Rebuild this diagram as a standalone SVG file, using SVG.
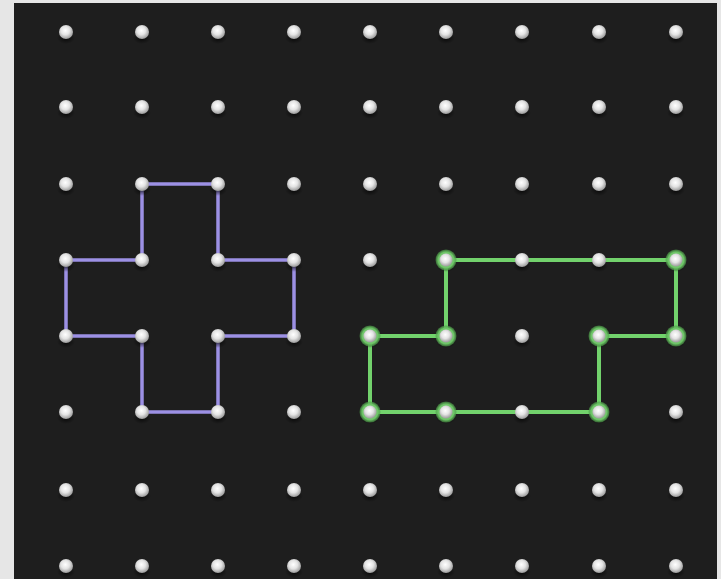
<svg xmlns="http://www.w3.org/2000/svg" width="721" height="579" viewBox="0 0 721 579">
<defs>
<radialGradient id="peg" cx="0.45" cy="0.4" r="0.6">
<stop offset="0" stop-color="#ffffff"/>
<stop offset="0.5" stop-color="#e4e4e4"/>
<stop offset="1" stop-color="#9a9a9a"/>
</radialGradient>
<radialGradient id="shadow" cx="0.5" cy="0.5" r="0.5">
<stop offset="0" stop-color="#000" stop-opacity="0.7"/>
<stop offset="1" stop-color="#000" stop-opacity="0"/>
</radialGradient>
<radialGradient id="glow" cx="0.5" cy="0.5" r="0.5">
<stop offset="0" stop-color="#a8e8a0"/>
<stop offset="0.75" stop-color="#6cc466"/>
<stop offset="1" stop-color="#4a9a46" stop-opacity="0.6"/>
</radialGradient>
<g id="p">
<ellipse cx="0" cy="6" rx="9" ry="6" fill="url(#shadow)"/>
<circle r="7" fill="url(#peg)"/>
</g>
<g id="gp">
<ellipse cx="0" cy="6" rx="10" ry="6" fill="url(#shadow)"/>
<circle r="10.5" fill="url(#glow)"/>
<circle r="6.5" fill="url(#peg)"/>
</g>
</defs>
<style>
.purple{fill:none;stroke:#9c90e4;stroke-width:3.5;stroke-linejoin:round}
.green{fill:none;stroke:#72d26c;stroke-width:4;stroke-linejoin:round}
</style>
<rect width="721" height="579" fill="#e6e6e6"/>
<rect x="14" y="3" width="703" height="576" fill="#1e1e1e"/>
<g id="connectors">
<polygon class="purple" points="142,184 218,184 218,260 294,260 294,336 218,336 218,412 142,412 142,336 66,336 66,260 142,260"/>
<polygon class="green" points="446,260 676,260 676,336 599,336 599,412 370,412 370,336 446,336"/>
</g>
<g id="pegs">
<g id="row1"><use href="#p" x="66" y="32"/><use href="#p" x="142" y="32"/><use href="#p" x="218" y="32"/><use href="#p" x="294" y="32"/><use href="#p" x="370" y="32"/><use href="#p" x="446" y="32"/><use href="#p" x="522" y="32"/><use href="#p" x="599" y="32"/><use href="#p" x="676" y="32"/></g>
<g id="row2"><use href="#p" x="66" y="107"/><use href="#p" x="142" y="107"/><use href="#p" x="218" y="107"/><use href="#p" x="294" y="107"/><use href="#p" x="370" y="107"/><use href="#p" x="446" y="107"/><use href="#p" x="522" y="107"/><use href="#p" x="599" y="107"/><use href="#p" x="676" y="107"/></g>
<g id="row3"><use href="#p" x="66" y="184"/><use href="#p" x="142" y="184"/><use href="#p" x="218" y="184"/><use href="#p" x="294" y="184"/><use href="#p" x="370" y="184"/><use href="#p" x="446" y="184"/><use href="#p" x="522" y="184"/><use href="#p" x="599" y="184"/><use href="#p" x="676" y="184"/></g>
<g id="row4"><use href="#p" x="66" y="260"/><use href="#p" x="142" y="260"/><use href="#p" x="218" y="260"/><use href="#p" x="294" y="260"/><use href="#p" x="370" y="260"/><use href="#gp" x="446" y="260"/><use href="#p" x="522" y="260"/><use href="#p" x="599" y="260"/><use href="#gp" x="676" y="260"/></g>
<g id="row5"><use href="#p" x="66" y="336"/><use href="#p" x="142" y="336"/><use href="#p" x="218" y="336"/><use href="#p" x="294" y="336"/><use href="#gp" x="370" y="336"/><use href="#gp" x="446" y="336"/><use href="#p" x="522" y="336"/><use href="#gp" x="599" y="336"/><use href="#gp" x="676" y="336"/></g>
<g id="row6"><use href="#p" x="66" y="412"/><use href="#p" x="142" y="412"/><use href="#p" x="218" y="412"/><use href="#p" x="294" y="412"/><use href="#gp" x="370" y="412"/><use href="#gp" x="446" y="412"/><use href="#p" x="522" y="412"/><use href="#gp" x="599" y="412"/><use href="#p" x="676" y="412"/></g>
<g id="row7"><use href="#p" x="66" y="490"/><use href="#p" x="142" y="490"/><use href="#p" x="218" y="490"/><use href="#p" x="294" y="490"/><use href="#p" x="370" y="490"/><use href="#p" x="446" y="490"/><use href="#p" x="522" y="490"/><use href="#p" x="599" y="490"/><use href="#p" x="676" y="490"/></g>
<g id="row8"><use href="#p" x="66" y="566"/><use href="#p" x="142" y="566"/><use href="#p" x="218" y="566"/><use href="#p" x="294" y="566"/><use href="#p" x="370" y="566"/><use href="#p" x="446" y="566"/><use href="#p" x="522" y="566"/><use href="#p" x="599" y="566"/><use href="#p" x="676" y="566"/></g>
</g>
</svg>
